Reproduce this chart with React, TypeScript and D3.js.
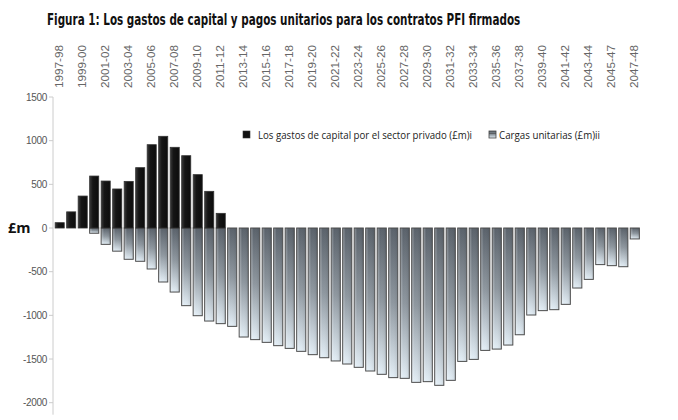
import React from "react";
import * as d3 from "d3";

const categories = [
  "1997-98","1998-99","1999-00","2000-01","2001-02","2002-03","2003-04","2004-05","2005-06","2006-07",
  "2007-08","2008-09","2009-10","2010-11","2011-12","2012-13","2013-14","2014-15","2015-16","2016-17",
  "2017-18","2018-19","2019-20","2020-21","2021-22","2022-23","2023-24","2024-25","2025-26","2026-27",
  "2027-28","2028-29","2029-30","2030-31","2031-32","2032-33","2033-34","2034-35","2035-36","2036-37",
  "2037-38","2038-39","2039-40","2040-41","2041-42","2042-43","2043-44","2044-45","2045-46","2046-47",
  "2047-48",
];

// labels shown on the top axis (every second category), as printed
const tickLabels = [
  "1997-98","1999-00","2001-02","2003-04","2005-06","2007-08","2009-10","2011-12","2013-14","2015-16",
  "2017-18","2019-20","2021-22","2023-24","2025-26","2027-28","2029-30","2031-32","2033-34","2035-36",
  "2037-38","2039-40","2041-42","2043-44","2045-47","2047-48",
];

// Capital spending by private sector (£m), 1997-98 .. 2011-12
const capitalSpending = [
  61, 185, 366, 595, 538, 447, 534, 691, 954, 1050, 924, 828, 611, 420, 168,
];

// Unitary charges (£m)
const unitaryCharges = [
  0, 0, 0, -60, -187, -265, -358, -381, -469, -618,
  -733, -889, -1004, -1065, -1095, -1126, -1248, -1278, -1309, -1347,
  -1378, -1412, -1450, -1485, -1522, -1557, -1595, -1637, -1675, -1713,
  -1721, -1767, -1759, -1801, -1744, -1527, -1504, -1401, -1386, -1340,
  -1222, -996, -946, -935, -874, -687, -588, -419, -431, -443,
  -125,
];

const yTicks = [1500, 1000, 500, 0, -500, -1000, -1500, -2000];

const title = "Figura 1: Los gastos de capital y pagos unitarios para los contratos PFI firmados";
const legend1 = "Los gastos de capital por el sector privado (£m)i";
const legend2 = "Cargas unitarias (£m)ii";

function FitText({ x, y, width, children, ...rest }: any) {
  const ref = React.useRef<SVGTextElement>(null);
  const [sx, setSx] = React.useState(1);
  React.useLayoutEffect(() => {
    if (ref.current) {
      const w = ref.current.getComputedTextLength();
      if (w > 0) setSx(width / w);
    }
  }, [width]);
  return (
    <text ref={ref} transform={`translate(${x},${y}) scale(${sx},1)`} {...rest}>
      {children}
    </text>
  );
}

export default function App() {
  const W = 678, H = 420;
  const x = d3.scaleBand<string>().domain(categories).range([54, 640.5]).paddingInner(0.21).paddingOuter(0.1);
  const y = d3.scaleLinear().domain([-2000, 1500]).range([402.7, 97]);
  const y0 = y(0);
  const bw = x.bandwidth();

  return (
    <svg width={W} height={H} style={{ position: "absolute", left: 0, top: 0, background: "#fff" }}
      fontFamily="'Liberation Sans', Arial, sans-serif">
      <defs>
        <linearGradient id="neg" x1="0" y1="0" x2="0" y2="1">
          <stop offset="0" stopColor="#59616a" />
          <stop offset="0.5" stopColor="#8e979f" />
          <stop offset="1" stopColor="#e3eef6" />
        </linearGradient>
        <linearGradient id="negH" x1="0" y1="0" x2="1" y2="0">
          <stop offset="0" stopColor="#ffffff" stopOpacity="0.3" />
          <stop offset="0.3" stopColor="#ffffff" stopOpacity="0" />
          <stop offset="1" stopColor="#000000" stopOpacity="0.08" />
        </linearGradient>
        <linearGradient id="pos" x1="0" y1="0" x2="1" y2="0">
          <stop offset="0" stopColor="#3a3a3a" />
          <stop offset="0.35" stopColor="#151515" />
          <stop offset="1" stopColor="#0c0c0c" />
        </linearGradient>
      </defs>

      <FitText x={47} y={25} width={474}
        fontFamily="'Liberation Sans Narrow', 'DejaVu Sans Condensed', Arial, sans-serif"
        fontWeight="bold" fontSize={15.5} fill="#111">
        {title}
      </FitText>

      {/* top category labels */}
      {tickLabels.map((t, i) => {
        const c = categories[i * 2];
        const cx = (x(c) as number) + bw / 2 + 3;
        return (
          <text key={t + i} transform={`translate(${cx},88) rotate(-90)`} fontSize={10.5} fill="#666"
            textAnchor="start" textLength={43} lengthAdjust="spacingAndGlyphs">
            {t}
          </text>
        );
      })}

      {/* y axis */}
      <line x1={53} x2={53} y1={y(1500)} y2={y(-2000) + 12} stroke="#ccc" strokeWidth={1} />
      {yTicks.map((v) => (
        <g key={v}>
          <line x1={49} x2={53} y1={y(v)} y2={y(v)} stroke="#ccc" />
          <text x={47} y={y(v) + 3.5} textAnchor="end" fontSize={10} fill="#555" letterSpacing={-0.3}>
            {v}
          </text>
        </g>
      ))}
      <text x={8} y={y0 + 5} fontSize={14.5} fontWeight="bold" fill="#111"
        fontFamily="'Open Sans', Arial, sans-serif">£m</text>

      {/* negative bars */}
      {unitaryCharges.map((v, i) => {
        if (v === 0) return null;
        const bx = x(categories[i]) as number;
        const h = y(v) - y0;
        return (
          <g key={"n" + i}>
            <rect x={bx} y={y0} width={bw} height={h} fill="url(#neg)" stroke="#4a4a4a" strokeWidth={1} />
            <rect x={bx + 0.5} y={y0 + 0.5} width={bw - 1} height={Math.max(0, h - 1)} fill="url(#negH)" />
          </g>
        );
      })}

      {/* positive bars */}
      {capitalSpending.map((v, i) => {
        const bx = x(categories[i]) as number;
        return (
          <rect key={"p" + i} x={bx} y={y(v)} width={bw} height={y0 - y(v)} fill="url(#pos)"
            stroke="#333" strokeWidth={0.8} />
        );
      })}

      {/* legend */}
      <rect x={243} y={131} width={7} height={7} fill="#111" stroke="#333" strokeWidth={0.6} />
      <text x={258} y={138.5} fontSize={10.5} fill="#222" fontFamily="'Open Sans', Arial, sans-serif"
        textLength={214} lengthAdjust="spacingAndGlyphs">{legend1}</text>
      <rect x={489} y={131} width={7} height={7} fill="url(#neg)" stroke="#444" strokeWidth={0.8} />
      <line x1={489} x2={496} y1={133.5} y2={133.5} stroke="#444" strokeWidth={0.6} />
      <text x={499} y={138.5} fontSize={10.5} fill="#222" fontFamily="'Open Sans', Arial, sans-serif"
        textLength={101} lengthAdjust="spacingAndGlyphs">{legend2}</text>
    </svg>
  );
}
